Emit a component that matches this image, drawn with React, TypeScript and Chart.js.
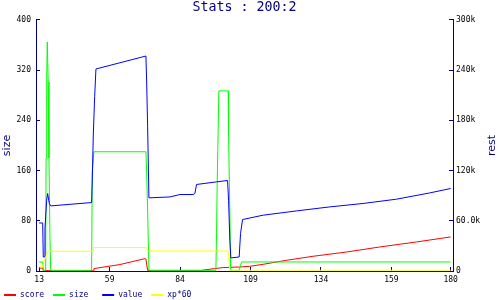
import React, { useEffect, useRef } from 'react';
import { Chart, registerables } from 'chart.js';

Chart.register(...registerables);

const NAVY = '#000080';
const MONO = '"DejaVu Sans Mono", monospace';
const SANS = '"DejaVu Sans", sans-serif';

const chartTitle = 'Stats : 200:2';
const leftAxisTitle = 'size';
const rightAxisTitle = 'rest';

const seriesNames = ['score', 'size', 'value', 'xp*60'];
const seriesColors = ['#ff0000', '#00ff00', '#0000ff', '#ffff00'];
const seriesAxes = ['y1', 'y', 'y1', 'y1'];

const xTickValues = [34, 59, 84, 109, 134, 159, 180];
const xTickLabels = ['13', '59', '84', '109', '134', '159', '180'];
const leftTickValues = [0, 80, 160, 240, 320, 400];
const rightTickValues = [0, 60000, 120000, 180000, 240000, 300000];
const rightTickLabels = ['0', '60.0k', '120k', '180k', '240k', '300k'];

const scoreX = [34.0, 35.2, 35.45, 53.2, 53.43, 62.65, 71.52, 71.87, 72.48, 91.38, 96.34, 99.28, 105.2, 108.75, 113.47, 121.77, 131.2, 143.04, 154.85, 167.87, 180];
const scoreY = [3500, 3500, 400, 400, 2900, 7700, 14800, 14200, 700, 700, 2900, 4100, 4800, 5600, 8000, 12800, 17600, 22700, 28700, 34700, 40700];

const sizeX = [34.0, 35.24, 35.45, 36.3, 36.45, 36.66, 36.87, 37.2, 37.47, 37.8, 38.08, 52.6, 52.83, 53.43, 71.87, 72.12, 72.48, 72.94, 96.7, 96.94, 97.16, 97.76, 101.06, 101.2, 101.66, 101.91, 104.96, 105.8, 180];
const sizeY = [14.4, 14.4, 1, 1, 180, 301, 365, 301, 180, 60, 1, 1, 158, 190, 190, 158, 96, 1, 1, 60, 139, 287, 287, 216, 92, 1, 1, 14.4, 14.4];

const valueX = [34.0, 35.24, 35.45, 35.8, 36.05, 36.66, 37.0, 37.6, 38.08, 52.6, 52.83, 53.2, 53.68, 54.14, 71.87, 72.12, 72.48, 72.94, 80.38, 83.93, 88.65, 89.25, 89.84, 96.94, 100.84, 101.2, 101.66, 102.01, 104.96, 105.45, 106.16, 113.47, 125.3, 137.1, 148.93, 160.77, 172.58, 180];
const valueY = [57400, 57400, 16750, 16750, 51100, 84600, 92600, 80700, 77800, 81800, 108500, 162400, 208200, 241400, 256900, 228200, 172300, 87400, 88500, 91400, 91400, 92600, 103400, 106500, 108200, 84600, 36700, 15600, 16750, 44800, 61500, 66700, 71800, 76600, 80700, 85800, 93300, 98600];

const xpX = [34.0, 35.2, 35.45, 36.3, 37.0, 37.2, 53.1, 53.2, 72.12, 72.48, 101.06, 101.66, 180];
const xpY = [4800, 4800, 8900, 16750, 22700, 23600, 23600, 28000, 28000, 23900, 23900, 900, 900];

const seriesX = [scoreX, sizeX, valueX, xpX];
const seriesY = [scoreY, sizeY, valueY, xpY];
const drawOrder = [3, 2, 1, 0];

const rightTitlePlugin = {
  id: 'rightTitle',
  afterDraw(chart: any) {
    const { ctx, chartArea } = chart;
    ctx.save();
    ctx.translate(492, (chartArea.top + chartArea.bottom) / 2);
    ctx.rotate(-Math.PI / 2);
    ctx.textAlign = 'center';
    ctx.textBaseline = 'middle';
    ctx.fillStyle = NAVY;
    ctx.font = '11px ' + SANS;
    ctx.fillText(rightAxisTitle, 0, 0);
    ctx.restore();
  },
};

export default function App() {
  const ref = useRef<HTMLCanvasElement | null>(null);

  useEffect(() => {
    if (!ref.current) return;
    const tickFont = { family: MONO, size: 8 };
    const gridOpts = { drawOnChartArea: false, drawTicks: true, tickLength: -4, color: NAVY, lineWidth: 1 };
    const borderOpts = { color: NAVY, width: 1 };

    const datasets = seriesNames.map((name, i) => ({
      label: name,
      data: seriesX[i].map((x, j) => ({ x, y: seriesY[i][j] })),
      borderColor: seriesColors[i],
      backgroundColor: seriesColors[i],
      borderWidth: 1,
      pointRadius: 0,
      tension: 0,
      fill: false,
      yAxisID: seriesAxes[i],
      order: drawOrder[i],
    }));

    const chart = new Chart(ref.current, {
      type: 'line',
      data: { datasets },
      plugins: [rightTitlePlugin],
      options: {
        animation: false,
        responsive: false,
        devicePixelRatio: 1,
        layout: { padding: { left: -5, right: 0, top: 0, bottom: -9 } },
        plugins: {
          title: {
            display: true,
            text: chartTitle,
            color: NAVY,
            fullSize: false,
            font: { family: MONO, size: 13.3, weight: 'normal' },
            padding: { top: 0, bottom: 4 },
          },
          legend: {
            position: 'bottom',
            align: 'start',
            labels: {
              boxWidth: 12,
              boxHeight: 2,
              padding: 9,
              color: NAVY,
              font: { family: MONO, size: 8 },
              sort: (a: any, b: any) => a.datasetIndex - b.datasetIndex,
              generateLabels: (c: any) =>
                Chart.defaults.plugins.legend.labels
                  .generateLabels(c)
                  .map((it: any) => ({ ...it, text: it.text.padEnd(5, ' '), lineWidth: 0 })),
            },
          },
          tooltip: { enabled: false },
        },
        scales: {
          x: {
            type: 'linear',
            min: 32.87,
            max: 180.84,
            afterBuildTicks: (s: any) => {
              s.ticks = xTickValues.map((v) => ({ value: v }));
            },
            afterFit: (s: any) => {
              s.height = 11;
            },
            ticks: {
              callback: (v: any) => {
                const k = xTickValues.indexOf(v);
                return k >= 0 ? xTickLabels[k] : '';
              },
              color: '#000',
              font: tickFont,
              padding: 8,
              maxRotation: 0,
              autoSkip: false,
            },
            grid: gridOpts,
            border: borderOpts,
          },
          y: {
            type: 'linear',
            position: 'left',
            min: 0,
            max: 400,
            afterBuildTicks: (s: any) => {
              s.ticks = leftTickValues.map((v) => ({ value: v }));
            },
            afterFit: (s: any) => {
              s.width = 41;
            },
            ticks: { color: '#000', font: tickFont, padding: 9 },
            title: {
              display: true,
              text: leftAxisTitle,
              color: NAVY,
              font: { family: SANS, size: 11 },
              padding: { top: 6, bottom: 0 },
            },
            grid: gridOpts,
            border: borderOpts,
          },
          y1: {
            type: 'linear',
            position: 'right',
            min: 0,
            max: 300000,
            afterBuildTicks: (s: any) => {
              s.ticks = rightTickValues.map((v) => ({ value: v }));
            },
            afterFit: (s: any) => {
              s.width = 47;
            },
            ticks: {
              color: '#000',
              font: tickFont,
              padding: 7,
              callback: (v: any) => {
                const k = rightTickValues.indexOf(v);
                return k >= 0 ? rightTickLabels[k] : '';
              },
            },
            grid: gridOpts,
            border: borderOpts,
          },
        },
      },
    } as any);
    return () => chart.destroy();
  }, []);

  return (
    <div style={{ position: 'absolute', left: 0, top: 0, width: 500, height: 300, background: '#fff' }}>
      <canvas ref={ref} width={500} height={300} style={{ display: 'block' }} />
    </div>
  );
}
